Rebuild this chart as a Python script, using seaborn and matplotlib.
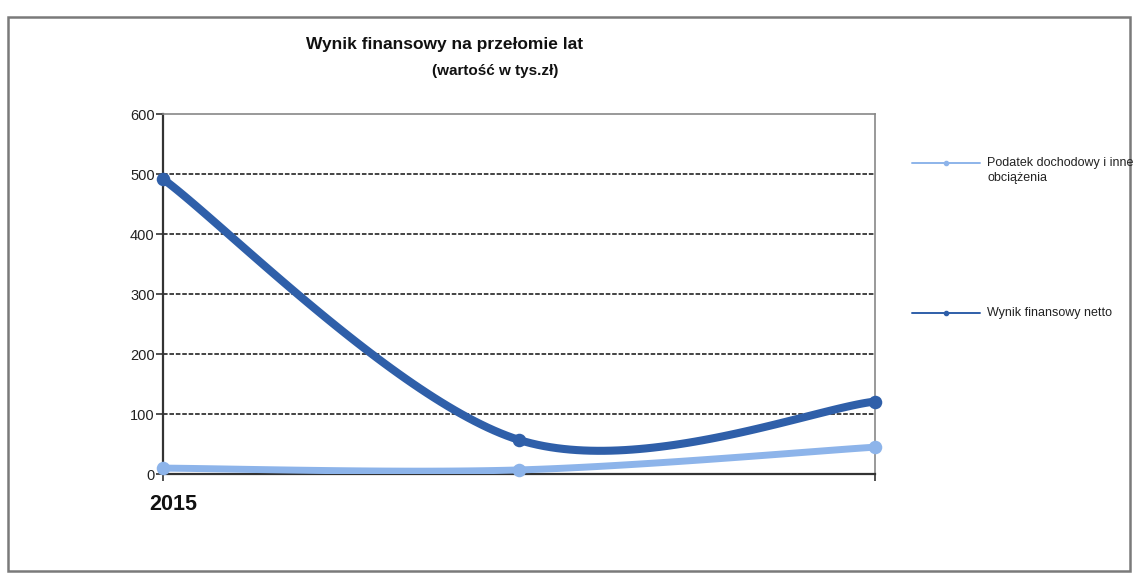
import numpy as np
import pandas as pd
import matplotlib
matplotlib.use("Agg")
import matplotlib.pyplot as plt
from matplotlib.lines import Line2D
from matplotlib.patches import Rectangle
import seaborn as sns

# --- data -------------------------------------------------------------
years = ["2015", "", ""]
x_pos = [0, 1, 2]
podatek = [10, 7, 45]           # Podatek dochodowy i inne obciążenia
wynik_netto = [492, 57, 121]    # Wynik finansowy netto
y_ticks = [0, 100, 200, 300, 400, 500, 600]

series_names = ["Podatek dochodowy i inne\nobciążenia", "Wynik finansowy netto"]
series_values = [podatek, wynik_netto]
series_colors = ["#8db4ea", "#2f5fa9"]
series_widths = [5.0, 5.8]


def smooth_curve(xs, ys, n=60):
    """Bezier smoothing through the points (spreadsheet-style smoothed line)."""
    pts = np.column_stack([xs, ys]).astype(float)
    out = []
    for i in range(len(pts) - 1):
        p0 = pts[max(i - 1, 0)]
        p1 = pts[i]
        p2 = pts[i + 1]
        p3 = pts[min(i + 2, len(pts) - 1)]
        c1 = p1 + (p2 - p0) / 6.0
        c2 = p2 - (p3 - p1) / 6.0
        t = np.linspace(0, 1, n)[:, None]
        seg = ((1 - t) ** 3) * p1 + 3 * ((1 - t) ** 2) * t * c1 \
            + 3 * (1 - t) * t ** 2 * c2 + t ** 3 * p2
        out.append(seg if i == 0 else seg[1:])
    return np.vstack(out)


sns.set_theme(style="white")
plt.rcParams["font.family"] = ["Liberation Sans", "DejaVu Sans"]

fig = plt.figure(figsize=(11.33, 5.74), dpi=100)
ax = fig.add_axes([0.1439, 0.174, 0.6284, 0.627])

for name, vals, col, lw in zip(series_names, series_values, series_colors, series_widths):
    curve = smooth_curve(x_pos, vals)
    df = pd.DataFrame({"x": curve[:, 0], "y": curve[:, 1]})
    sns.lineplot(data=df, x="x", y="y", sort=False, color=col, linewidth=lw,
                 ax=ax, zorder=3, solid_capstyle="round")
    pts = pd.DataFrame({"x": x_pos, "y": vals})
    sns.scatterplot(data=pts, x="x", y="y", color=col, s=95, edgecolor=col,
                    linewidth=0, ax=ax, zorder=4, clip_on=False)

ax.set_xlim(0, 2)
ax.set_ylim(0, 600)
ax.set_yticks(y_ticks)
ax.set_yticklabels([str(v) for v in y_ticks], fontsize=10.5, color="#222222")
# tick marks only at the ends of the category axis
ax.set_xticks([x_pos[0], x_pos[-1]])
ax.set_xticklabels([])
ax.set_xlabel("")
ax.set_ylabel("")

# category label under the first point
ax.annotate(years[0], xy=(x_pos[0], 0), xycoords="data", xytext=(7, -14),
            textcoords="offset points", ha="center", va="top",
            fontsize=15.5, fontweight="bold", color="#111111", annotation_clip=False)

# dashed horizontal gridlines
for v in y_ticks[1:-1]:
    ax.axhline(v, color="#111111", linewidth=1.1, linestyle=(0, (3, 1.2)), zorder=1)

ax.tick_params(axis="y", which="major", left=True, length=5, width=1.2,
               color="#333333", pad=1)
ax.tick_params(axis="x", which="major", bottom=True, length=5, width=1.2,
               color="#333333")
for side in ["left", "bottom"]:
    ax.spines[side].set_color("#333333")
    ax.spines[side].set_linewidth(1.6)
for side in ["top", "right"]:
    ax.spines[side].set_color("#888888")
    ax.spines[side].set_linewidth(1.2)

# title
fig.text(445 / 1133, 1 - 45 / 574, "Wynik finansowy na przełomie lat",
         ha="center", va="center", fontsize=12.5, fontweight="bold", color="#111111")
fig.text(495 / 1133, 1 - 71 / 574, "(wartość w tys.zł)",
         ha="center", va="center", fontsize=11, fontweight="bold", color="#111111")

# legend on the right
legend_rows = [(163, series_names[0], series_colors[0]),
               (313, series_names[1], series_colors[1])]
for ypx, name, col in legend_rows:
    yf = 1 - ypx / 574
    fig.add_artist(Line2D([912 / 1133, 980 / 1133], [yf, yf], color=col,
                          linewidth=1.4, transform=fig.transFigure))
    fig.add_artist(Line2D([946 / 1133], [yf], color=col, marker="o", markersize=3,
                          transform=fig.transFigure))
    fig.text(987 / 1133, yf + 6 / 574, name, ha="left", va="top", fontsize=9,
             color="#222222", linespacing=1.3)

# outer frame
fig.add_artist(Rectangle((8 / 1133, 3 / 574), 1122 / 1133, 554 / 574, fill=False,
                         edgecolor="#7a7a7a", linewidth=1.8, transform=fig.transFigure))

fig.savefig("out.png", dpi=100, facecolor="white")
